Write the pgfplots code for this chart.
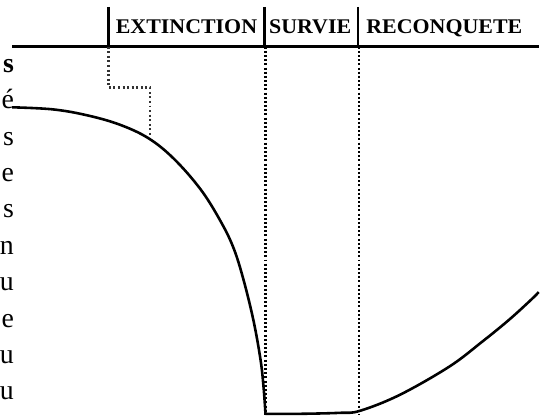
\documentclass[border=0pt]{standalone}
\usepackage{pgfplots}
\pgfplotsset{compat=1.18}
\usepackage{fontspec}
\setmainfont{Liberation Serif}
\begin{document}
\begin{tikzpicture}
\begin{axis}[scale only axis, width=540pt, height=418pt,
  xmin=0, xmax=540, ymin=0, ymax=418, hide axis, clip=false]
% invisible frame for the bounding box
\addplot[draw=none] coordinates {(0,0) (540,418)};
% header rule and separators
\addplot[black, line width=2.6pt] coordinates {(10,371) (540,371)};
\addplot[black, line width=2.2pt] coordinates {(107,411) (107,371)};
\addplot[black, line width=2.2pt] coordinates {(264,411) (264,371)};
\addplot[black, line width=2.2pt] coordinates {(358,411) (358,371)};
% dotted lines
\addplot[black!80, line width=2.2pt, dash pattern=on 2pt off 2.6pt] coordinates {(107,371) (107,330) (149,330) (149,278)};
\addplot[black, line width=2.2pt, dash pattern=on 2pt off 2.2pt] coordinates {(265,371) (265,0)};
\addplot[black, line width=2.2pt, dash pattern=on 2pt off 2.2pt] coordinates {(359,371) (359,0)};
% curve
\addplot[black, line width=2.6pt, smooth, tension=0.6] coordinates {
 (10,310) (50,308) (83,302.5) (117,293) (147,279) (173,258) (200,227)
 (220,195) (233,168) (243,136) (253,95) (260,56) (263,29) (265,1.5)};
\addplot[black, line width=2.6pt, smooth, tension=0.6] coordinates {
 (265,1.5) (300,1.5) (340,2.5) (360,4.5) (400,20.5) (450,49) (483,74) (510,96) (532,116) (540,124)};
% header labels
\node[font=\bfseries\fontsize{21}{21}\selectfont, xscale=1.05, anchor=base] at (axis cs:185.5,384) {EXTINCTION};
\node[font=\bfseries\fontsize{21}{21}\selectfont, xscale=1.05, anchor=base] at (axis cs:310,384) {SURVIE};
\node[font=\bfseries\fontsize{21}{21}\selectfont, xscale=1.05, anchor=base] at (axis cs:445,384) {RECONQUETE};
% fragments of page text on the left
\node[font=\bfseries\fontsize{28}{28}\selectfont, anchor=base east, inner sep=0pt] at (axis cs:12,345) {s};
\node[font=\fontsize{28}{28}\selectfont, anchor=base east, inner sep=0pt] at (axis cs:12,308.4) {é};
\node[font=\fontsize{28}{28}\selectfont, anchor=base east, inner sep=0pt] at (axis cs:12,271.8) {s};
\node[font=\fontsize{28}{28}\selectfont, anchor=base east, inner sep=0pt] at (axis cs:12,235.2) {e};
\node[font=\fontsize{28}{28}\selectfont, anchor=base east, inner sep=0pt] at (axis cs:12,198.6) {s};
\node[font=\fontsize{28}{28}\selectfont, anchor=base east, inner sep=0pt] at (axis cs:12,162) {n};
\node[font=\fontsize{28}{28}\selectfont, anchor=base east, inner sep=0pt] at (axis cs:12,125.4) {u};
\node[font=\fontsize{28}{28}\selectfont, anchor=base east, inner sep=0pt] at (axis cs:12,88.8) {e};
\node[font=\fontsize{28}{28}\selectfont, anchor=base east, inner sep=0pt] at (axis cs:12,52.2) {u};
\node[font=\fontsize{28}{28}\selectfont, anchor=base east, inner sep=0pt] at (axis cs:12,15.6) {u};
\end{axis}
\end{tikzpicture}
\end{document}
